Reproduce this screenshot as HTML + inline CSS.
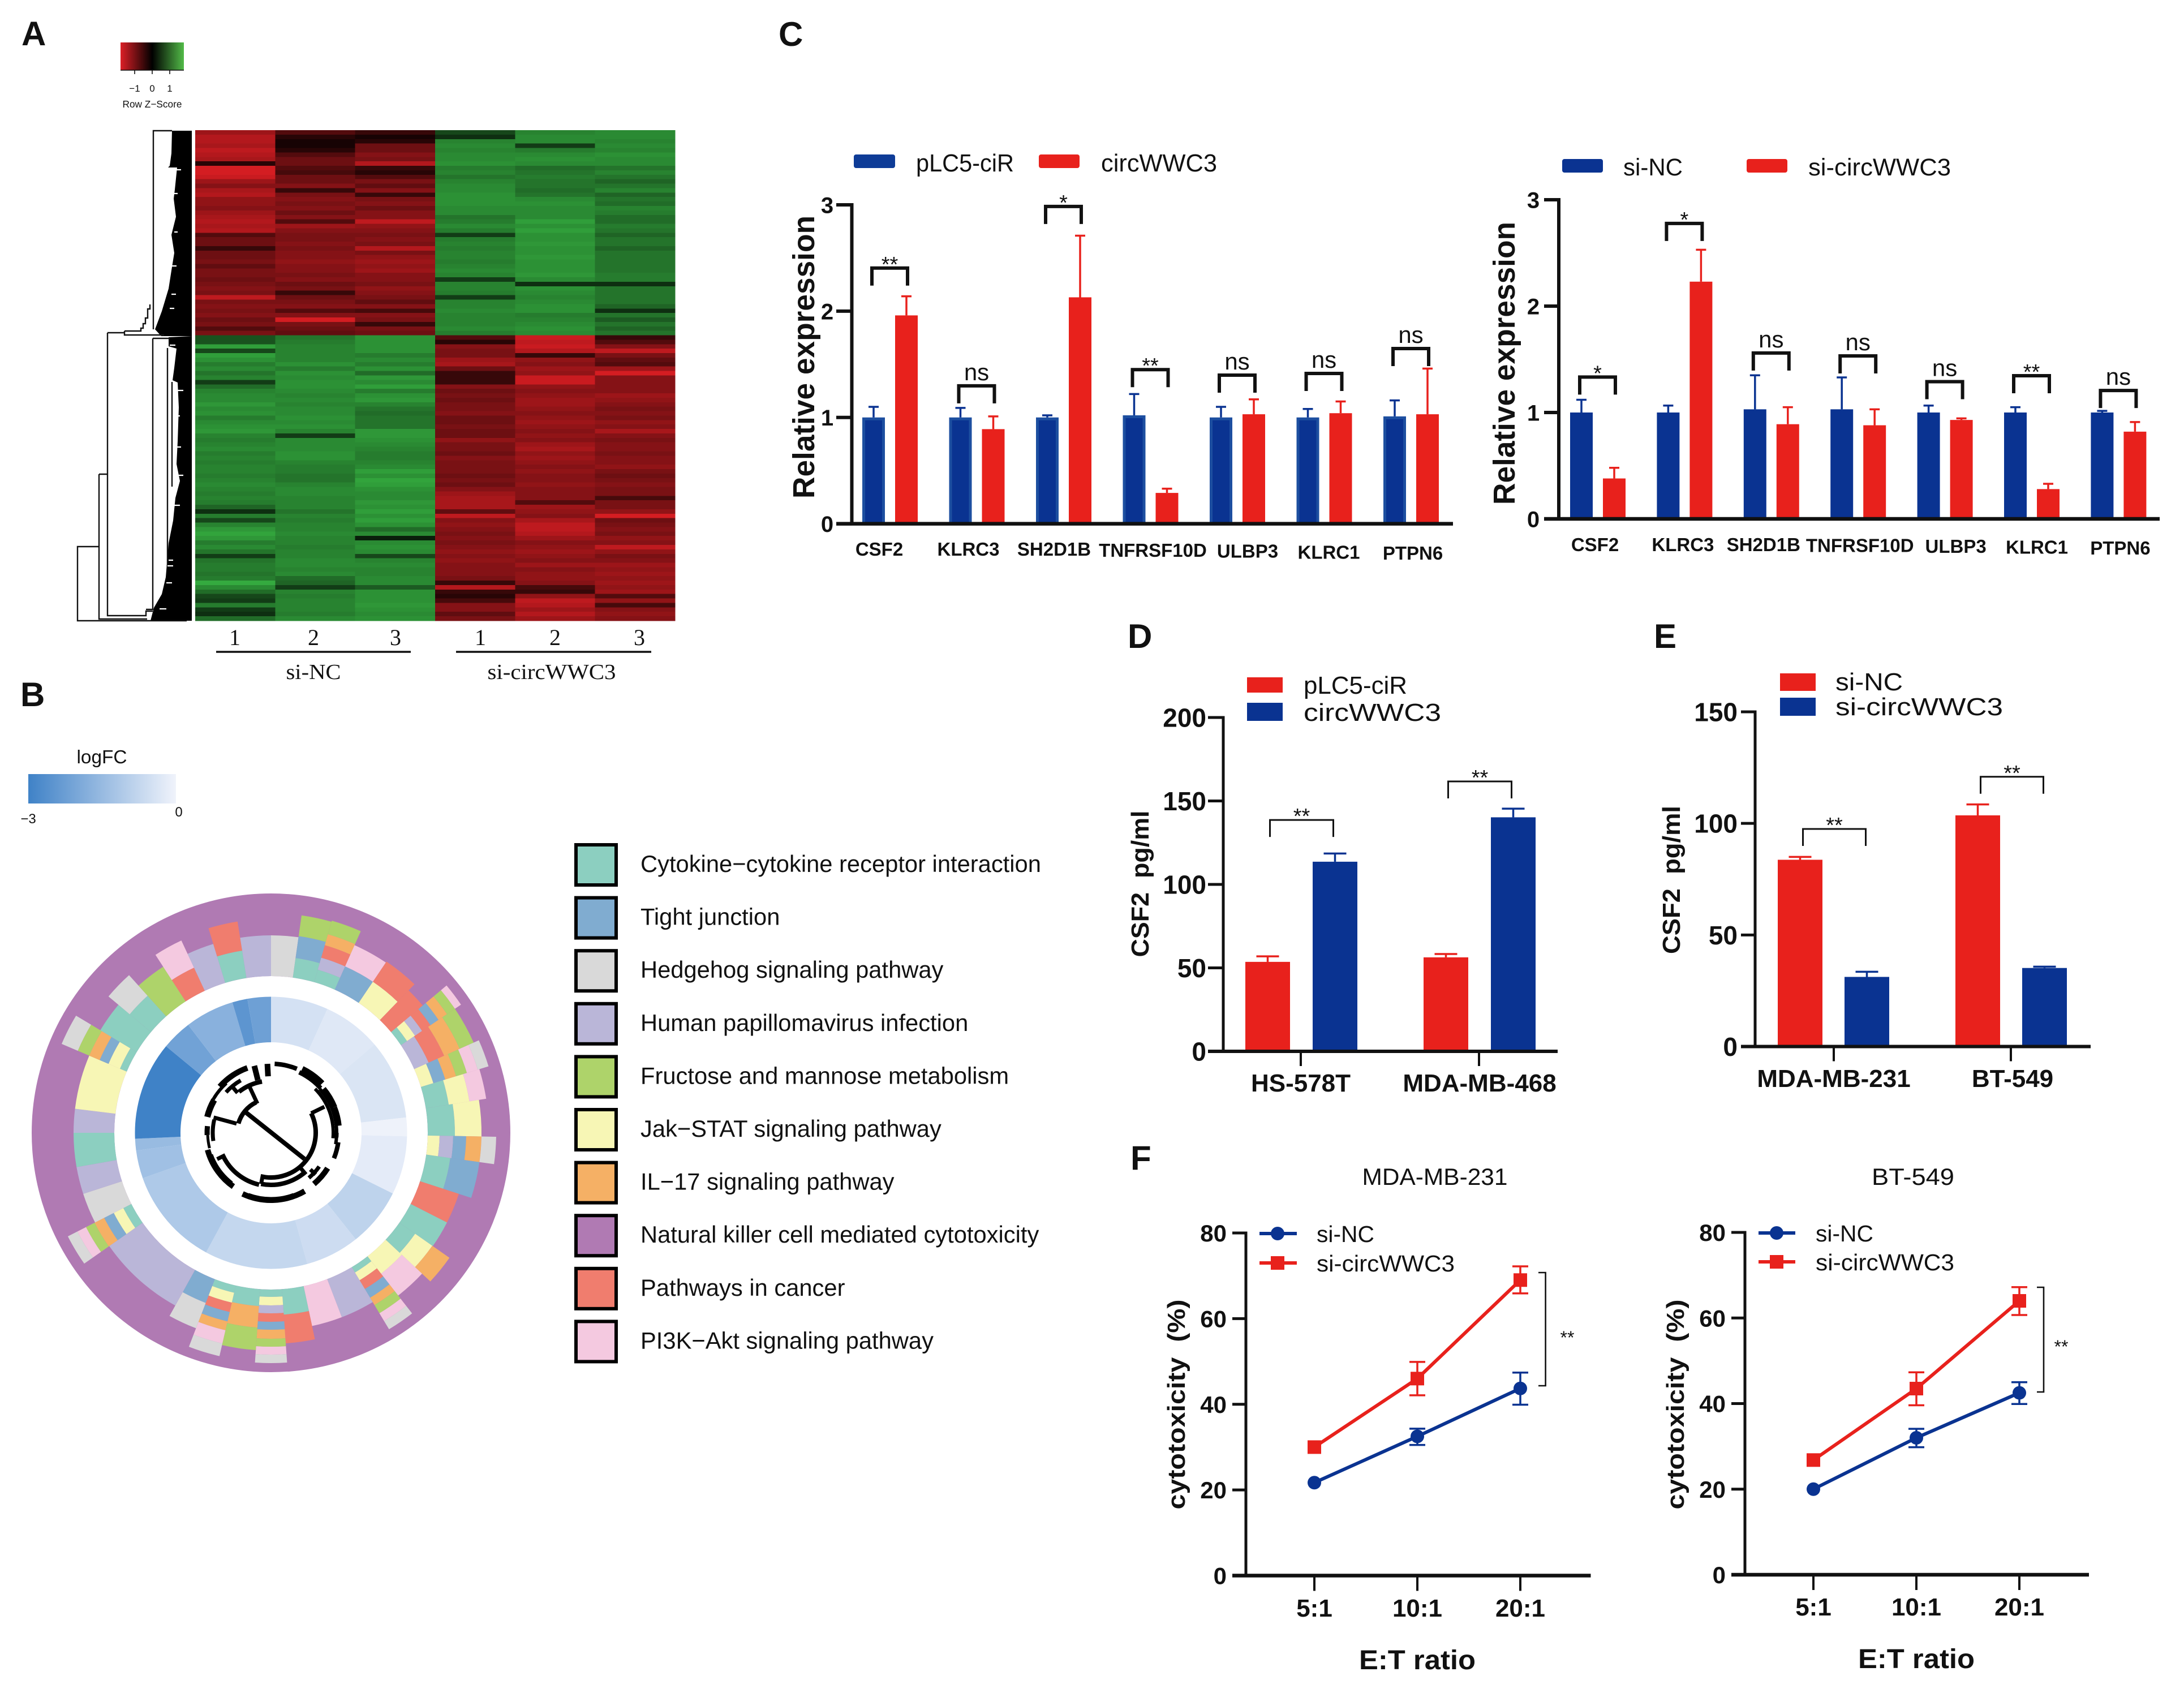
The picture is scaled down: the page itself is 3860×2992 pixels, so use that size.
<!DOCTYPE html>
<html lang="en">
<head>
<meta charset="utf-8">
<title>circWWC3 multi-panel figure</title>
<style>
html,body{margin:0;padding:0;background:#fff}
svg{display:block}
text{font-family:"Liberation Sans",sans-serif;fill:#111}
.serif{font-family:"Liberation Serif",serif}
</style>
</head>
<body>
<svg id="fig" xmlns="http://www.w3.org/2000/svg" width="3860" height="2992" viewBox="0 0 3860 2992">
<defs>
<linearGradient id="keyGrad" x1="0" x2="1" y1="0" y2="0"><stop offset="0" stop-color="#dc1f26"/><stop offset=".5" stop-color="#000"/><stop offset="1" stop-color="#52bb48"/></linearGradient>
<linearGradient id="fcGrad" x1="0" x2="1" y1="0" y2="0"><stop offset="0" stop-color="#3f82c7"/><stop offset="1" stop-color="#f0f3fb"/></linearGradient>
</defs>
<rect width="3860" height="2992" fill="#fff"/>

<g font-weight="700" font-size="60">
<text x="38" y="80" font-weight="700" font-size="60">A</text>
<text x="36" y="1248" font-weight="700" font-size="60">B</text>
<text x="1376" y="81" font-weight="700" font-size="60">C</text>
<text x="1993" y="1145" font-weight="700" font-size="60">D</text>
<text x="2923" y="1145" font-weight="700" font-size="60">E</text>
<text x="1998" y="2067" font-weight="700" font-size="60">F</text>
</g>

<!-- Panel A -->
<g>
<rect x="213" y="75" width="112" height="49" fill="url(#keyGrad)"/>
<path d="M213 124H325M238 124v7M269 124v7M300 124v7" stroke="#111" stroke-width="1.6" fill="none"/>
<text x="238" y="162" font-size="17" text-anchor="middle">−1</text>
<text x="269" y="162" font-size="17" text-anchor="middle">0</text>
<text x="300" y="162" font-size="17" text-anchor="middle">1</text>
<text x="269" y="190" font-size="17.5" text-anchor="middle" textLength="105" lengthAdjust="spacingAndGlyphs">Row Z−Score</text>
</g>
<g>
<polygon fill="#000" points="339,231 304,231 303,271 300,293 297,296 313,296 309,335 307,351 311,383 303,415 308,447 303,478 298,510 286,550 274,582 285,594 339,594"/>
<polygon fill="#000" points="339,594 298,596 298,612 312,616 308,650 305,672 314,676 316,720 314,780 312,820 318,850 310,880 306,920 298,960 293,1020 286,1050 272,1074 266,1097 339,1097"/>
<path fill="none" stroke="#111" stroke-width="2.4" d="M175 966H137V1097H330M175 838V1094H260M175 838H190M190 588V1088H258V1080H270M190 588H220M220 585V592H290M220 585H249V580H253V572H257V562H261V546H265V538M271 582V231H304M270 598V1077H258M270 598H300M296 615V1000M304 675V860"/>
<path fill="none" stroke="#fff" stroke-width="2.2" d="M310 300h10M306 342h8M308 410h6M304 470h8M303 520h8M300 545h8M300 610h10M314 690h10M312 735h6M312 790h8M316 840h8M308 893h10M298 990h8M296 1000h10M294 1030h10M282 1076h12"/>
</g>
<g id="heatmapCells" shape-rendering="crispEdges"></g>
<g>
<text class="serif" x="415" y="1140" font-size="40" text-anchor="middle">1</text>
<text class="serif" x="554" y="1140" font-size="40" text-anchor="middle">2</text>
<text class="serif" x="699" y="1140" font-size="40" text-anchor="middle">3</text>
<text class="serif" x="849" y="1140" font-size="40" text-anchor="middle">1</text>
<text class="serif" x="981" y="1140" font-size="40" text-anchor="middle">2</text>
<text class="serif" x="1130" y="1140" font-size="40" text-anchor="middle">3</text>
<path d="M382 1152H726M806 1152H1151" stroke="#111" stroke-width="3.6"/>
<text class="serif" x="554" y="1200" font-size="38" text-anchor="middle" textLength="97" lengthAdjust="spacingAndGlyphs">si-NC</text>
<text class="serif" x="975" y="1200" font-size="38" text-anchor="middle" textLength="227" lengthAdjust="spacingAndGlyphs">si-circWWC3</text>
</g>

<!-- Panel B -->
<g>
<text x="180" y="1349" font-size="33" text-anchor="middle" textLength="89" lengthAdjust="spacingAndGlyphs">logFC</text>
<rect x="50" y="1368" width="261" height="52" fill="url(#fcGrad)"/>
<text x="50" y="1455" font-size="24" text-anchor="middle">−3</text>
<text x="316" y="1443" font-size="24" text-anchor="middle">0</text>
</g>
<g id="circos"></g>
<g id="pathwayLegend"></g>

<!-- Panel C legends and titles -->
<g>
<rect x="1509" y="273" width="73" height="24" rx="4" fill="#0e3c97"/>
<text x="1619" y="303" font-size="44" textLength="173" lengthAdjust="spacingAndGlyphs">pLC5-ciR</text>
<rect x="1836" y="273" width="72" height="24" rx="4" fill="#e8211c"/>
<text x="1946" y="303" font-size="44" textLength="205" lengthAdjust="spacingAndGlyphs">circWWC3</text>
<text transform="translate(1439,631) rotate(-90)" font-size="54" font-weight="700" text-anchor="middle" textLength="500" lengthAdjust="spacingAndGlyphs">Relative expression</text>
</g>
<g>
<rect x="2761" y="281" width="72" height="24" rx="4" fill="#0a3391"/>
<text x="2869" y="310" font-size="43" textLength="105" lengthAdjust="spacingAndGlyphs">si-NC</text>
<rect x="3087" y="281" width="72" height="24" rx="4" fill="#e8211c"/>
<text x="3196" y="310" font-size="43" textLength="252" lengthAdjust="spacingAndGlyphs">si-circWWC3</text>
<text transform="translate(2677,642) rotate(-90)" font-size="54" font-weight="700" text-anchor="middle" textLength="500" lengthAdjust="spacingAndGlyphs">Relative expression</text>
</g>
<g id="chartC1"></g>
<g id="chartC2"></g>

<!-- Panel D -->
<g>
<rect x="2204" y="1197" width="63" height="27" fill="#e8211c"/>
<rect x="2204" y="1242" width="63" height="32" fill="#0a3391"/>
<text x="2304" y="1226" font-size="44" textLength="183" lengthAdjust="spacingAndGlyphs">pLC5-ciR</text>
<text x="2304" y="1274" font-size="44" textLength="243" lengthAdjust="spacingAndGlyphs">circWWC3</text>
<text transform="translate(2030,1562) rotate(-90)" font-size="44" font-weight="700" text-anchor="middle" textLength="259" lengthAdjust="spacingAndGlyphs">CSF2 &#160;pg/ml</text>
</g>
<g id="chartD"></g>

<!-- Panel E -->
<g>
<rect x="3146" y="1190" width="63" height="31" fill="#e8211c"/>
<rect x="3146" y="1233" width="63" height="32" fill="#0a3391"/>
<text x="3244" y="1220" font-size="44" textLength="119" lengthAdjust="spacingAndGlyphs">si-NC</text>
<text x="3244" y="1264" font-size="44" textLength="296" lengthAdjust="spacingAndGlyphs">si-circWWC3</text>
<text transform="translate(2969,1555) rotate(-90)" font-size="44" font-weight="700" text-anchor="middle" textLength="262" lengthAdjust="spacingAndGlyphs">CSF2 &#160;pg/ml</text>
</g>
<g id="chartE"></g>

<!-- Panel F -->
<g>
<text x="2536" y="2094" font-size="42" text-anchor="middle" textLength="257" lengthAdjust="spacingAndGlyphs">MDA-MB-231</text>
<text x="2327" y="2195" font-size="41" textLength="102" lengthAdjust="spacingAndGlyphs">si-NC</text>
<text x="2327" y="2247" font-size="41" textLength="244" lengthAdjust="spacingAndGlyphs">si-circWWC3</text>
<text x="2505" y="2950" font-size="48" font-weight="700" text-anchor="middle" textLength="206" lengthAdjust="spacingAndGlyphs">E:T ratio</text>
<text transform="translate(2094,2482) rotate(-90)" font-size="44" font-weight="700" text-anchor="middle" textLength="371" lengthAdjust="spacingAndGlyphs">cytotoxicity &#160;(%)</text>
<path d="M2226 2180H2292" stroke="#0a3391" stroke-width="6"/>
<circle cx="2258" cy="2180" r="12" fill="#0a3391"/>
<path d="M2226 2232H2292" stroke="#e8211c" stroke-width="6"/>
<rect x="2246" y="2220" width="24" height="24" fill="#e8211c"/>
</g>
<g>
<text x="3381" y="2094" font-size="42" text-anchor="middle" textLength="146" lengthAdjust="spacingAndGlyphs">BT-549</text>
<text x="3209" y="2194" font-size="41" textLength="102" lengthAdjust="spacingAndGlyphs">si-NC</text>
<text x="3209" y="2245" font-size="41" textLength="245" lengthAdjust="spacingAndGlyphs">si-circWWC3</text>
<text x="3387" y="2948" font-size="48" font-weight="700" text-anchor="middle" textLength="206" lengthAdjust="spacingAndGlyphs">E:T ratio</text>
<text transform="translate(2976,2482) rotate(-90)" font-size="44" font-weight="700" text-anchor="middle" textLength="371" lengthAdjust="spacingAndGlyphs">cytotoxicity &#160;(%)</text>
<path d="M3108 2179H3173" stroke="#0a3391" stroke-width="6"/>
<circle cx="3140" cy="2179" r="12" fill="#0a3391"/>
<path d="M3108 2230H3173" stroke="#e8211c" stroke-width="6"/>
<rect x="3128" y="2218" width="24" height="24" fill="#e8211c"/>
</g>
<g id="chartF1"></g>
<g id="chartF2"></g>
</svg>

<script>
/* ---------- Panel A data: row z-scores (tenths), columns NC1 NC2 NC3 circ1 circ2 circ3 ---------- */
const heatmapSamples = ["NC1","NC2","NC3","C1","C2","C3"];
const heatmapRows = [
[-11,-5,-3,4,11,12],[-13,-2,-1,2,12,12],[-13,-1,-2,11,12,11],[-12,-1,-7,12,3,12],[-14,-2,-7,11,10,11],
[-13,-5,-9,12,12,13],[-12,-7,-8,12,13,12],[-2,-7,-13,13,12,12],[-16,-5,-3,10,8,9],[-16,-4,-2,11,9,11],
[-15,-7,-5,9,10,9],[-11,-7,-8,11,9,7],[-9,-9,-6,12,9,9],[-12,-3,-9,12,8,11],[-13,-8,-3,13,9,7],
[-10,-9,-8,13,12,9],[-10,-8,-9,13,13,8],[-9,-9,-7,12,12,11],[-11,-7,-9,12,12,10],[-12,-9,-9,9,12,8],
[-13,-5,-14,10,15,8],[-12,-11,-10,12,13,10],[-13,-9,-9,10,15,9],[-5,-8,-8,3,13,7],[-7,-8,-9,10,13,9],
[-7,-9,-8,11,14,9],[-3,-8,-13,10,13,7],[-7,-9,-8,11,13,9],[-7,-9,-10,11,14,9],[-8,-10,-11,10,13,9],
[-6,-9,-10,11,13,9],[-8,-9,-11,12,13,9],[-8,-8,-9,11,14,10],[-7,-9,-9,3,12,10],[-8,-7,-8,11,2,2],
[-9,-8,-10,11,13,9],[-8,-3,-9,10,12,9],[-14,-7,-8,3,11,9],[-8,-8,-6,11,12,9],[-9,-9,-9,11,13,7],
[-8,-5,-4,12,13,2],[-9,-9,-9,11,10,9],[-7,-16,-8,11,11,6],[-8,-8,-3,11,12,9],[-5,-7,-8,12,13,7],
[-8,-6,-7,10,12,9],
[5,9,13,-5,-15,-3],[5,10,13,-2,-14,-5],[15,11,13,-9,-15,-9],[4,11,13,-8,-13,-14],[15,11,10,-8,-3,-8],
[13,11,12,-11,-10,-6],[10,13,10,-12,-9,-5],[12,10,13,-7,-11,-11],[9,13,8,-3,-10,-16],[11,12,14,-3,-15,-9],
[3,13,12,-3,-15,-9],[8,13,15,-9,-10,-9],[11,12,10,-7,-9,-9],[12,11,13,-8,-10,-11],[12,12,14,-7,-11,-10],
[14,11,11,-8,-11,-9],[12,12,9,-8,-10,-8],[13,12,8,-9,-9,-9],[10,13,9,-7,-10,-8],[12,12,9,-7,-11,-10],
[13,13,9,-8,-10,-9],[14,11,14,-7,-9,-12],[11,3,14,-7,-10,-9],[10,12,13,-10,-9,-8],[11,12,12,-8,-11,-9],
[12,12,11,-8,-12,-9],[10,13,10,-7,-10,-8],[11,13,10,-9,-11,-9],[10,11,11,-8,-10,-9],[11,10,12,-8,-9,-10],
[11,10,15,-8,-10,-8],[10,9,13,-7,-9,-7],[11,9,16,-8,-9,-8],[12,11,15,-7,-10,-9],[11,12,13,-9,-9,-8],
[10,12,12,-11,-9,-8],[11,11,12,-12,-9,-4],[10,11,14,-12,-5,-8],[7,11,13,-12,-11,-8],[2,9,15,-6,-10,-10],
[10,11,13,-14,-9,-16],[4,10,15,-9,-12,-7],[11,11,13,-10,-14,-8],[14,11,8,-9,-14,-9],[16,12,12,-8,-13,-8],
[14,11,1,-9,-11,-10],[10,11,12,-8,-9,-9],[12,10,13,-9,-10,-14],[9,11,12,-10,-11,-10],[3,11,4,-9,-10,-8],
[9,12,11,-10,-9,-9],[10,12,12,-9,-11,-11],[10,11,11,-9,-9,-10],[9,12,11,-9,-10,-11],[10,8,12,-8,-10,-10],
[17,7,12,-3,-9,-11],[12,3,6,-13,-4,-10],[8,11,13,-3,-3,-11],[4,10,13,-2,-10,-5],[3,11,13,-4,-14,-10],
[10,11,14,-9,-13,-4],[3,11,13,-9,-11,-9],[2,10,12,-6,-13,-10],[8,12,13,-8,-11,-9]
];

/* ---------- Panel B data ---------- */
const pathwayNames = ["Cytokine−cytokine receptor interaction","Tight junction","Hedgehog signaling pathway","Human papillomavirus infection","Fructose and mannose metabolism","Jak−STAT signaling pathway","IL−17 signaling pathway","Natural killer cell mediated cytotoxicity","Pathways in cancer","PI3K−Akt signaling pathway"];
const pathwayKeys = ["T","B","G","L","N","Y","O","P","R","K"];
const logfcSpans = [24.5,25,34,8,25,25,23,44,42,12,5,42,13,21,6.5,10];
const logfcValues = [-0.47,-0.29,-0.38,-0.03,-0.2,-0.85,-0.6,-0.75,-1.12,-1.35,-1.5,-3,-2.15,-1.75,-2.5,-2.2];
const sectorSpans = [8,8,8,10,10,6,6,10,7,8,10,7,10,9,8,8,9,7,10,9,8,8,9,8,8,26,8,9,8,10,7,16,8,9,8,9,8,8,8,9];
const sectorStacks = [
[["G",72]],[["T",35],["B",74],["N",111]],[["T",23],["L",45],["R",68],["O",88],["N",113]],[["B",45],["K",86]],
[["Y",45],["R",88]],[["R",73]],[["T",13],["Y",30],["L",45],["R",63],["B",80],["O",98],["N",115],["K",128]],
[["L",28],["R",58],["O",88],["N",115]],[["Y",23],["B",45],["O",65],["N",85],["K",105],["G",125]],
[["T",41],["Y",78],["K",108]],[["T",48],["Y",95]],[["Y",21],["L",45],["B",68],["O",95],["G",121]],
[["T",43],["B",95]],[["R",72]],[["T",72]],[["T",34],["Y",71],["O",108]],[["Y",39],["K",88]],
[["T",11],["Y",27],["R",45],["B",63],["O",78],["N",95],["K",111],["G",128]],[["L",72]],[["K",72]],[["T",45],["R",96]],
[["T",13],["Y",28],["L",42],["R",57],["B",71],["O",87],["N",101],["K",115],["G",130]],[["T",30],["O",68],["N",108]],
[["T",13],["Y",31],["R",48],["B",65],["O",81],["K",105],["G",128]],[["B",45],["G",93]],[["L",72]],
[["T",16],["Y",35],["B",54],["O",73],["N",90],["K",107],["G",126]],[["G",72]],[["L",72]],[["T",72]],[["L",72]],[["Y",72]],
[["T",13],["Y",35],["B",52],["O",72],["N",94],["G",125]],[["T",75]],[["T",49],["G",98]],[["N",73]],[["R",45],["K",98]],
[["L",72]],[["T",49],["R",101]],[["L",72]]
];

/* ---------- Panel C data ---------- */
const cCategories = ["CSF2","KLRC3","SH2D1B","TNFRSF10D","ULBP3","KLRC1","PTPN6"];
const c1Ticks = [0,1,2,3];
const c1Control = [1.0,1.0,1.0,1.02,1.0,1.0,1.01];
const c1Treated = [1.96,0.89,2.13,0.29,1.03,1.04,1.03];
const c1ControlTop = [1.10,1.09,1.02,1.22,1.10,1.08,1.16];
const c1TreatedTop = [2.14,1.01,2.71,0.33,1.17,1.15,1.46];
const c1Sig = ["**","ns","*","**","ns","ns","ns"];
const c1BracketLevels = [2.405,1.297,2.985,1.45,1.398,1.414,1.648];
const c2Ticks = [0,1,2,3];
const c2Control = [1.0,1.0,1.03,1.03,1.0,1.0,1.0];
const c2Treated = [0.38,2.23,0.89,0.88,0.93,0.28,0.82];
const c2ControlTop = [1.12,1.065,1.35,1.33,1.065,1.05,1.015];
const c2TreatedTop = [0.48,2.53,1.05,1.03,0.945,0.33,0.91];
const c2Sig = ["*","*","ns","ns","ns","**","ns"];
const c2BracketLevels = [1.333,2.777,1.559,1.532,1.29,1.346,1.207];

/* ---------- Panel D data ---------- */
const dCategories = ["HS-578T","MDA-MB-468"];
const dTicks = [0,50,100,150,200];
const dRed = [53.6,56.3];
const dBlue = [113.6,140.2];
const dRedTop = [56.9,58.3];
const dBlueTop = [118.5,145.4];
const dSig = ["**","**"];
const dBracketLevels = [138.6,161.7];

/* ---------- Panel E data ---------- */
const eCategories = ["MDA-MB-231","BT-549"];
const eTicks = [0,50,100,150];
const eRed = [83.7,103.6];
const eBlue = [31.2,35.2];
const eRedTop = [85,108.5];
const eBlueTop = [33.5,35.8];
const eSig = ["**","**"];
const eBracketLevels = [97.5,120.9];

/* ---------- Panel F data ---------- */
const fRatios = ["5:1","10:1","20:1"];
const fTicks = [0,20,40,60,80];
const f1Blue = [21.7,32.5,43.7];
const f1BlueHi = [21.7,34.3,47.4];
const f1BlueLo = [21.7,30.5,39.9];
const f1Red = [30,46,69];
const f1RedHi = [30,49.9,72.2];
const f1RedLo = [30,42.1,65.9];
const f2Blue = [20,32,42.5];
const f2BlueHi = [20,34.1,45];
const f2BlueLo = [20,29.8,39.9];
const f2Red = [26.8,43.5,64];
const f2RedHi = [26.8,47.3,67.2];
const f2RedLo = [26.8,39.6,60.7];

/* ---------- helpers ---------- */
const NS = "http://www.w3.org/2000/svg";
const BLUE = "#0a3391", RED = "#e8211c", INK = "#111";
function mk(parent, tag, name, attrs) {
  const el = document.createElementNS(NS, tag);
  for (const k in attrs) el.setAttribute(k, attrs[k]);
  
  
  parent.appendChild(el);
  return el;
}
function label(parent, name, x, y, str, attrs) {
  const el = mk(parent, "text", name, Object.assign({x: x, y: y}, attrs));
  el.textContent = str;
  return el;
}
const $ = id => document.getElementById(id);

/* ---------- heatmap ---------- */
function heatColor(v) {
  const m = Math.abs(v) / 16;
  if (v < 0) {
    const t = Math.min(1, Math.pow(m, 0.8) * 0.9);
    return `rgb(${Math.round(235*t)},${Math.round(32*t)},${Math.round(38*t)})`;
  }
  const t = Math.min(1, Math.pow(m, 0.6) * 0.84);
  return `rgb(${Math.round(60*t)},${Math.round(195*t)},${Math.round(72*t)})`;
}
(function drawHeatmap() {
  const g = $("heatmapCells"), left = 345, top = 230, w = 848 / heatmapSamples.length, h = 867 / heatmapRows.length;
  heatmapRows.forEach((row, r) => row.forEach((v, c) => {
    const cell = mk(g, "rect", "heatmap-cell", {x: left + c * w, y: top + r * h, width: w + .5, height: h + .5, fill: heatColor(v)});
    
  }));
})();

/* ---------- circular plot ---------- */
const pathwayColors = {T:"#8ccfc0",B:"#80acd0",G:"#d9d9d9",L:"#bab6d8",N:"#aed36a",Y:"#f7f6b5",O:"#f5b065",P:"#b07ab3",R:"#f07d6e",K:"#f4c9e0"};
const CX = 479, CY = 2002;
function pol(r, a) { const t = a * Math.PI / 180; return [CX + r * Math.sin(t), CY - r * Math.cos(t)]; }
function annular(r0, r1, a0, a1) {
  const p = [pol(r0, a0), pol(r1, a0), pol(r1, a1), pol(r0, a1)], big = (a1 - a0) > 180 ? 1 : 0;
  return `M${p[0]}L${p[1]}A${r1} ${r1} 0 ${big} 1 ${p[2]}L${p[3]}A${r0} ${r0} 0 ${big} 0 ${p[0]}Z`.replace(/,/g, " ");
}
function arcD(r, a0, a1) { const s = pol(r, a0), e = pol(r, a1); return `M${s[0]} ${s[1]}A${r} ${r} 0 ${(a1-a0)>180?1:0} 1 ${e[0]} ${e[1]}`; }
function fcColor(v) {
  const t = Math.min(1, Math.abs(v) / 3), a = [240,243,251], b = [63,130,199];
  return `rgb(${a.map((x, i) => Math.round(x + (b[i] - x) * t)).join(",")})`;
}
const rLevel = lv => 277 + lv;
/* decorative inner-tree geometry (radius, start°, end°, width) */
const treeArcs = [[60,286,334,8],[79,64,193,8],[92,140,191,8],[94,193,244,8],[103,262,283,7],[104,125,140,7],[92,322,350,8],[107,312,330,7],[110,45,95,6],[116,48,100,6],
[122,3,22,8],[125,26,46,12],[118,25,48,8],[121,50,68,10],[116,50,66,6],[122,68,84,7],[115,90,94,9],[120,98,112,8],[118,122,140,10],[119,150,205,10],[116,160,200,5],[116,215,255,10],[112,218,250,5],[112,256,268,5],[113,268,276,9],[116,284,300,11],[122,312,340,10],[118,300,318,6]];
const treeSpokes = [[64,79,105,7],[285,63,105,7],[335,57,92,7],[320,92,108,7],[191,75,92,7],[140,80,96,7],[346,96,122,10],[357,100,122,10],[244,90,106,7],[133,95,108,7]];
(function drawCircos() {
  const g = $("circos");
  mk(g, "circle", "outer-purple-ring", {cx: CX, cy: CY, r: 423, fill: pathwayColors.P});
  mk(g, "circle", "white-gap-ring", {cx: CX, cy: CY, r: 277, fill: "#fff"});
  let a = 0;
  sectorStacks.forEach((stack, i) => {
    const span = sectorSpans[i];
    let lv = 0;
    stack.forEach(([cat, top]) => {
      mk(g, "path", "gene-sector-band", {d: annular(rLevel(lv), rLevel(top), a, a + span), fill: pathwayColors[cat]});
      lv = top;
    });
    a += span;
  });
  a = 0;
  logfcValues.forEach((v, i) => {
    mk(g, "path", "logfc-sector", {d: annular(160, 240.5, a, a + logfcSpans[i]), fill: fcColor(v)});
    a += logfcSpans[i];
  });
  treeArcs.forEach(([r, a0, a1, w]) => mk(g, "path", "tree-arc", {d: arcD(r, a0, a1), fill: "none", stroke: "#000", "stroke-width": w}));
  treeSpokes.forEach(([an, r0, r1, w]) => {
    const s = pol(r0, an), e = pol(r1, an);
    mk(g, "line", "tree-spoke", {x1: s[0], y1: s[1], x2: e[0], y2: e[1], stroke: "#000", "stroke-width": w});
  });
  const s = pol(61, 309), e = pol(75, 128);
  mk(g, "line", "tree-root-branch", {x1: s[0], y1: s[1], x2: e[0], y2: e[1], stroke: "#000", "stroke-width": 8});

  const lg = $("pathwayLegend");
  pathwayNames.forEach((name, i) => {
    const y = 1493 + i * 93.6;
    mk(lg, "rect", "legend-swatch", {x: 1018, y: y, width: 71, height: 71, fill: pathwayColors[pathwayKeys[i]], stroke: "#000", "stroke-width": 6});
    label(lg, "legend-label", 1132, y + 48, name, {"font-size": 41.7});
  });
})();

/* ---------- bar panels ---------- */
function drawBars(g, c) {
  const y = v => c.y0 - v / c.yMax * (c.y0 - c.yTop);
  const left = (s, i) => c.x0 + c.step * i + c.gap * s;
  [c.a, c.b].forEach((vals, s) => vals.forEach((v, i) => {
    const col = s === 0 ? c.colA : c.colB, top = s === 0 ? c.aTop[i] : c.bTop[i], cx = left(s, i) + c.bw / 2;
    mk(g, "line", "error-bar", {x1: cx, x2: cx, y1: y(v), y2: y(top), stroke: col, "stroke-width": 3.5});
    mk(g, "line", "error-cap", {x1: cx - c.cap, x2: cx + c.cap, y1: y(top), y2: y(top), stroke: col, "stroke-width": 3.5});
    const attrs = {x: left(s, i), y: y(v), width: c.bw, height: c.y0 - y(v), fill: col};
    if (s === 0 && c.edge) { attrs.stroke = c.edge; attrs["stroke-width"] = 5; attrs.x += 2.5; attrs.width -= 5; attrs.y += 2.5; attrs.height -= 2.5; }
    mk(g, "rect", "bar", attrs);
  }));
  /* axes */
  mk(g, "line", "y-axis-line", {x1: c.ax, x2: c.ax, y1: c.yTop - c.aw / 2, y2: c.y0, stroke: INK, "stroke-width": c.aw});
  mk(g, "line", "x-axis-line", {x1: c.tickL, x2: c.xEnd, y1: c.y0, y2: c.y0, stroke: INK, "stroke-width": c.xw});
  c.ticks.forEach(t => {
    mk(g, "line", "y-tick", {x1: c.tickL, x2: c.ax, y1: y(t), y2: y(t), stroke: INK, "stroke-width": c.aw});
    label(g, "y-tick-label", c.tickLabelX, y(t) + c.tickSize * .36, t, {"font-size": c.tickSize, "font-weight": 700, "text-anchor": c.tickAnchor});
  });
  c.cats.forEach((cat, i) => {
    label(g, "x-category-label", c.catX(i), c.catY(i), cat, {"font-size": c.catSize, "font-weight": 700, "text-anchor": "middle"});
    if (c.xTick) {
      const tx = c.catTickX(i);
      mk(g, "line", "x-tick", {x1: tx, x2: tx, y1: c.y0, y2: c.y0 + c.xTick, stroke: INK, "stroke-width": 4});
    }
    /* significance bracket */
    const xa = left(0, i) + c.bw / 2 + c.insetA, xb = left(1, i) + c.bw / 2 + c.insetB, by = y(c.levels[i]);
    mk(g, "path", "significance-bracket", {d: `M${xa} ${by + c.bh}V${by}H${xb}V${by + c.bh}`, fill: "none", stroke: INK, "stroke-width": c.bsw});
    const sig = c.sig[i], mid = (xa + xb) / 2;
    if (sig === "ns") label(g, "significance-label", mid, by - 10, sig, {"font-size": 42, "text-anchor": "middle"});
    else label(g, "significance-label", mid, by + c.starDy, sig, {"font-size": c.starSize, "text-anchor": "middle"});
  });
}
const c1Nudge = [-19,-15,-17,4,18,8,3];
const c2Nudge = [-5,-3,-14,3,19,9,3];
drawBars($("chartC1"), {cats: cCategories, a: c1Control, b: c1Treated, aTop: c1ControlTop, bTop: c1TreatedTop, sig: c1Sig, levels: c1BracketLevels, ticks: c1Ticks, yMax: 3,
  y0: 925.6, yTop: 362, x0: 1524, step: 153.5, gap: 58, bw: 40, cap: 9, colA: BLUE, colB: RED, edge: "#1d4fa0", ax: 1505.5, aw: 6, xw: 6.5, tickL: 1478, xEnd: 2568,
  tickLabelX: 1462, tickSize: 40, tickAnchor: "middle", catSize: 33, catX: i => 1573 + 153.5 * i + c1Nudge[i], catY: i => 982 + Math.max(0, i - 2) * 1.75, bh: 31, bsw: 6, insetA: -3, insetB: 2, starSize: 38, starDy: 6});
drawBars($("chartC2"), {cats: cCategories, a: c2Control, b: c2Treated, aTop: c2ControlTop, bTop: c2TreatedTop, sig: c2Sig, levels: c2BracketLevels, ticks: c2Ticks, yMax: 3,
  y0: 917, yTop: 353, x0: 2775, step: 153.4, gap: 58, bw: 40, cap: 9, colA: BLUE, colB: RED, ax: 2755, aw: 6, xw: 6.5, tickL: 2729, xEnd: 3817,
  tickLabelX: 2710, tickSize: 40, tickAnchor: "middle", catSize: 33, catX: i => 2824 + 153.4 * i + c2Nudge[i], catY: i => 974 + Math.max(0, i - 2) * 1.5, bh: 31, bsw: 6, insetA: -3, insetB: 2, starSize: 38, starDy: 6});
drawBars($("chartD"), {cats: dCategories, a: dRed, b: dBlue, aTop: dRedTop, bTop: dBlueTop, sig: dSig, levels: dBracketLevels, ticks: dTicks, yMax: 200,
  y0: 1858, yTop: 1268, x0: 2201, step: 315, gap: 119, bw: 79, cap: 20, colA: RED, colB: BLUE, ax: 2162, aw: 5, xw: 6, tickL: 2135, xEnd: 2753,
  tickLabelX: 2132, tickSize: 46, tickAnchor: "end", catSize: 44, catX: i => 2299 + 316 * i, catY: () => 1929, xTick: 26, catTickX: i => 2299 + 315 * i, bh: 30, bsw: 3, insetA: 4, insetB: -3, starSize: 38, starDy: 6});
drawBars($("chartE"), {cats: eCategories, a: eRed, b: eBlue, aTop: eRedTop, bTop: eBlueTop, sig: eSig, levels: eBracketLevels, ticks: eTicks, yMax: 150,
  y0: 1849.5, yTop: 1258, x0: 3142, step: 314, gap: 118, bw: 79, cap: 20, colA: RED, colB: BLUE, ax: 3102, aw: 5, xw: 6, tickL: 3077, xEnd: 3695,
  tickLabelX: 3071, tickSize: 46, tickAnchor: "end", catSize: 44, catX: i => 3241 + 316 * i, catY: () => 1921, xTick: 26, catTickX: i => 3241 + 313 * i, bh: 30, bsw: 3, insetA: 5, insetB: -2, starSize: 38, starDy: 6});

/* ---------- line panels ---------- */
function drawLines(g, c) {
  const y = v => c.y0 - v / 80 * (c.y0 - c.yTop);
  const x = i => c.x0 + c.step * i;
  mk(g, "line", "y-axis-line", {x1: c.ax, x2: c.ax, y1: c.yTop - 2.5, y2: c.y0, stroke: INK, "stroke-width": 5});
  mk(g, "line", "x-axis-line", {x1: c.tickL, x2: c.xEnd, y1: c.y0, y2: c.y0, stroke: INK, "stroke-width": 6.5});
  fTicks.forEach(t => {
    mk(g, "line", "y-tick", {x1: c.tickL, x2: c.ax, y1: y(t), y2: y(t), stroke: INK, "stroke-width": 5});
    label(g, "y-tick-label", c.tickLabelX, y(t) + 15, t, {"font-size": 42, "font-weight": 700, "text-anchor": "end"});
  });
  fRatios.forEach((r, i) => {
    mk(g, "line", "x-tick", {x1: x(i), x2: x(i), y1: c.y0, y2: c.y0 + 27, stroke: INK, "stroke-width": 4});
    label(g, "x-tick-label", x(i), c.catY, r, {"font-size": 44, "font-weight": 700, "text-anchor": "middle"});
  });
  [[c.blue, c.blueHi, c.blueLo, BLUE, "si-nc"], [c.red, c.redHi, c.redLo, RED, "si-circwwc3"]].forEach(([vals, hi, lo, col, key]) => {
    mk(g, "polyline", "series-line-" + key, {points: vals.map((v, i) => `${x(i)},${y(v)}`).join(" "), fill: "none", stroke: col, "stroke-width": 6});
    vals.forEach((v, i) => {
      if (hi[i] !== lo[i]) {
        mk(g, "path", "error-bar-" + key, {d: `M${x(i)-14} ${y(hi[i])}H${x(i)+14}M${x(i)} ${y(hi[i])}V${y(lo[i])}M${x(i)-14} ${y(lo[i])}H${x(i)+14}`, fill: "none", stroke: col, "stroke-width": 3.5});
      }
      if (key === "si-nc") mk(g, "circle", "point-" + key, {cx: x(i), cy: y(v), r: 12, fill: col});
      else mk(g, "rect", "point-" + key, {x: x(i) - 12, y: y(v) - 12, width: 24, height: 24, fill: col});
    });
  });
  mk(g, "path", "significance-bracket", {d: `M${c.br0} ${c.brY0}H${c.br1}V${c.brY1}H${c.br0}`, fill: "none", stroke: INK, "stroke-width": 2.6});
  label(g, "significance-label", c.starX, c.starY, "**", {"font-size": 32, "text-anchor": "middle"});
}
drawLines($("chartF1"), {blue: f1Blue, blueHi: f1BlueHi, blueLo: f1BlueLo, red: f1Red, redHi: f1RedHi, redLo: f1RedLo,
  y0: 2784.5, yTop: 2179, x0: 2323, step: 182, ax: 2202, tickL: 2178, xEnd: 2811.5, tickLabelX: 2168, catY: 2857,
  br0: 2719, br1: 2731.6, brY0: 2249, brY1: 2449, starX: 2770, starY: 2375});
drawLines($("chartF2"), {blue: f2Blue, blueHi: f2BlueHi, blueLo: f2BlueLo, red: f2Red, redHi: f2RedHi, redLo: f2RedLo,
  y0: 2783, yTop: 2178, x0: 3205, step: 182, ax: 3084, tickL: 3060, xEnd: 3692, tickLabelX: 3050, catY: 2855,
  br0: 3600, br1: 3612, brY0: 2275, brY1: 2460, starX: 3643, starY: 2391});
</script>
</body>
</html>
